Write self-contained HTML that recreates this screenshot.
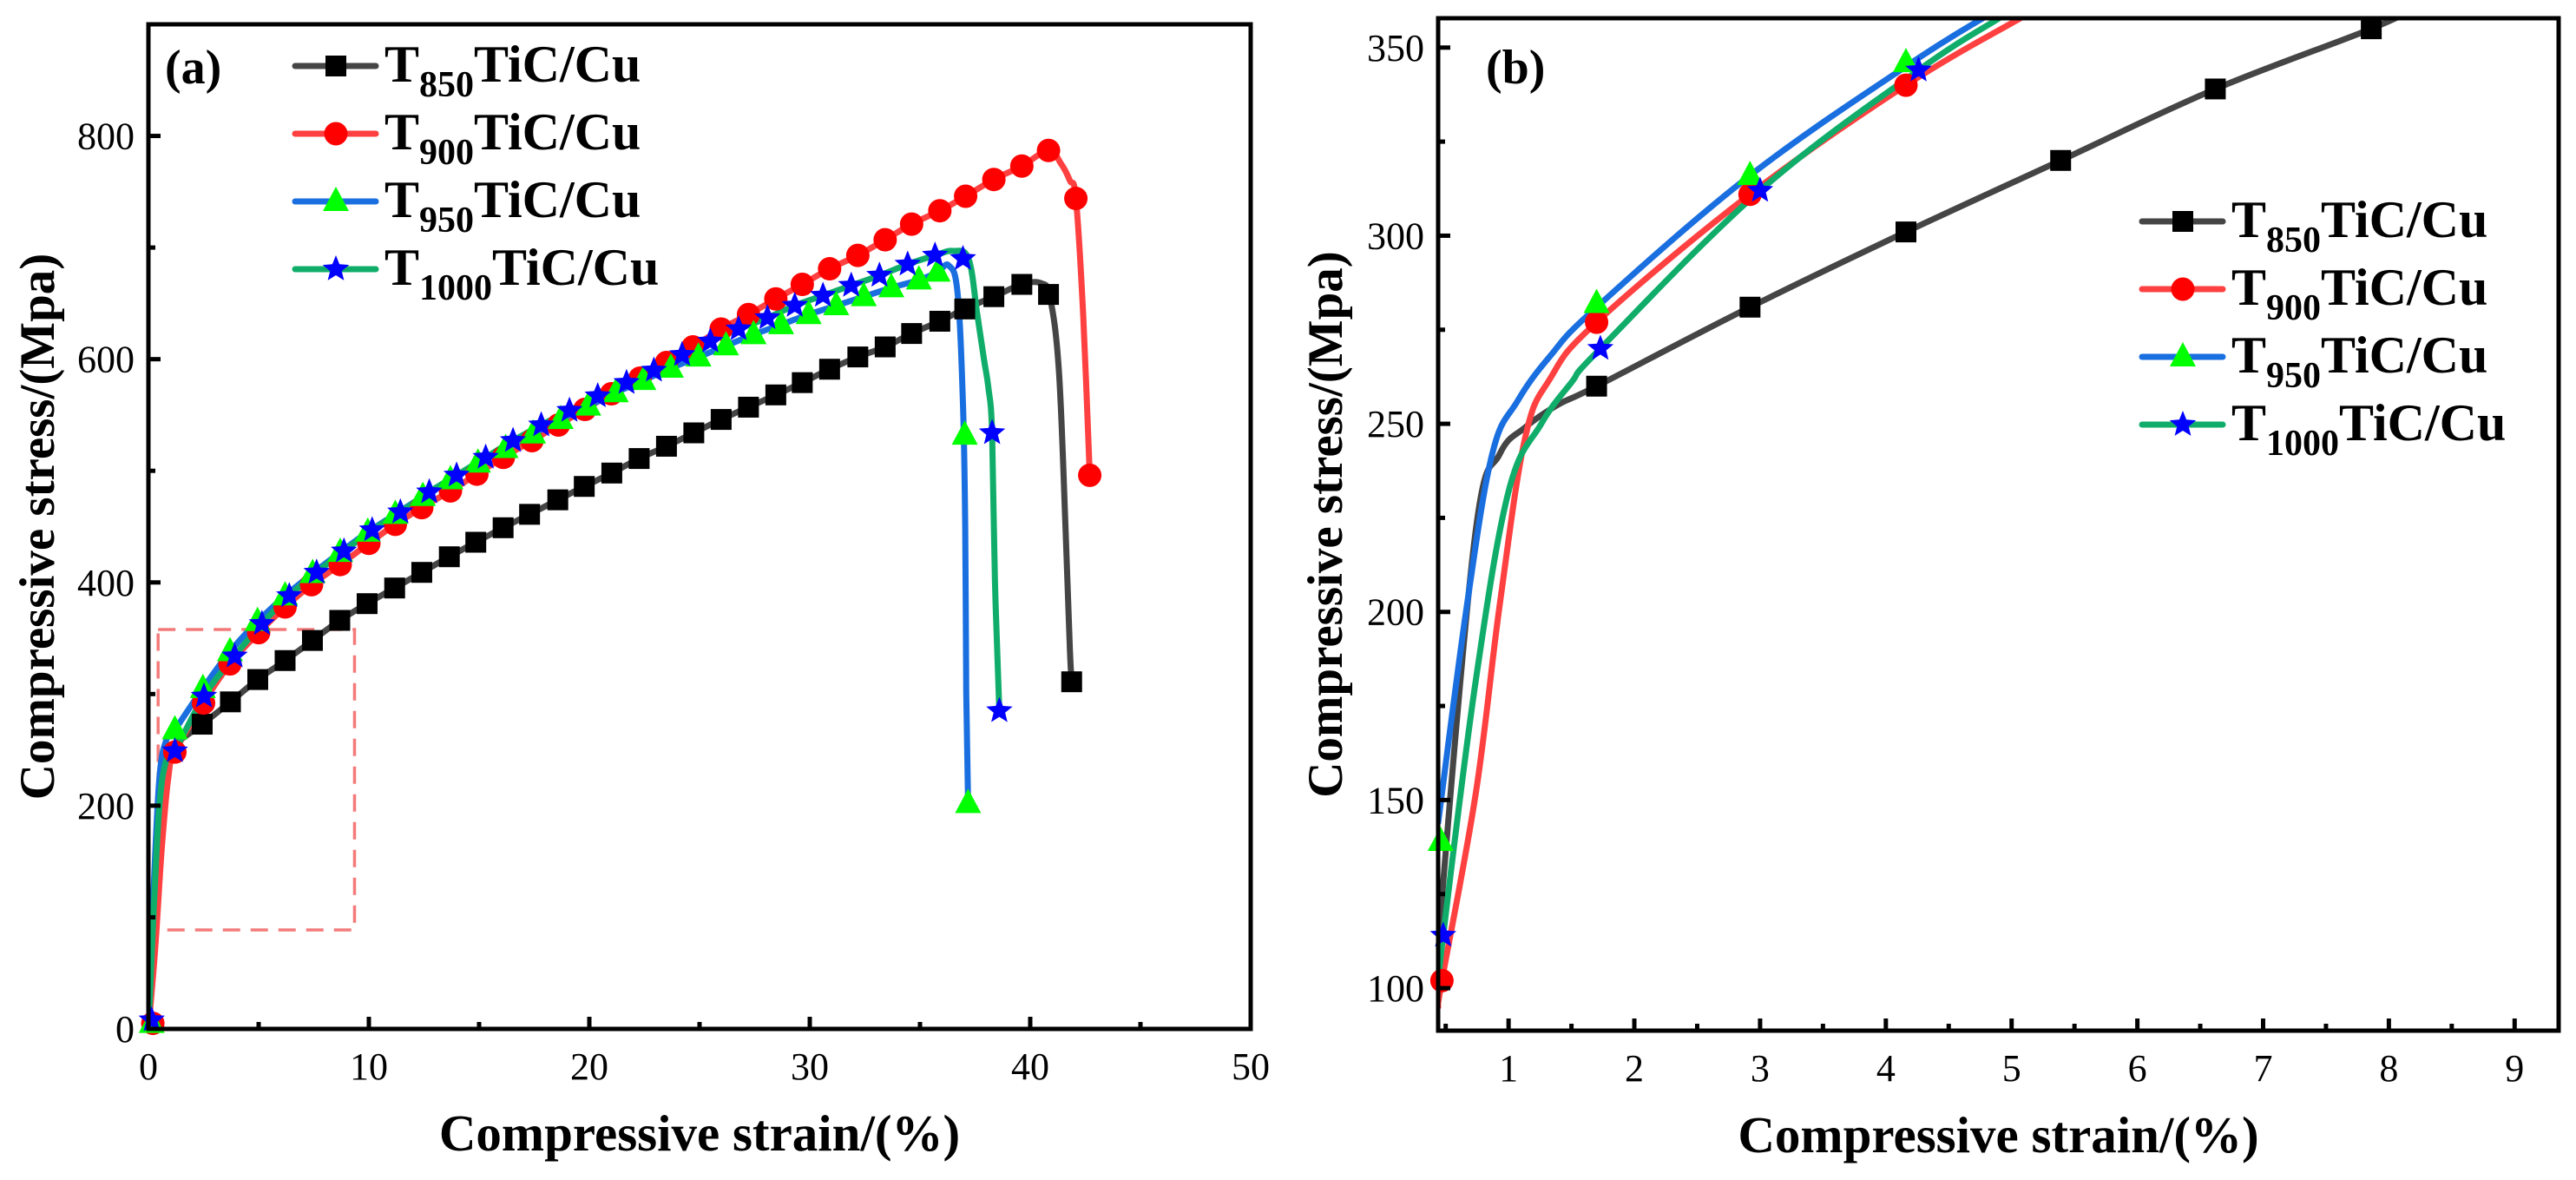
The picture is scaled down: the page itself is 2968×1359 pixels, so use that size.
<!DOCTYPE html>
<html><head><meta charset="utf-8"><style>
html,body{margin:0;padding:0;background:#fff;}
svg{display:block;}
text{font-family:"Liberation Serif",serif;}
</style></head><body>
<svg id="fig" width="2968" height="1359" viewBox="0 0 2968 1359" xmlns="http://www.w3.org/2000/svg"></svg>
<script>
// ---------- Panel (a) data ----------
const a850LineX=[0,0.25,0.5,0.8,1.2,2.44,3.72,4.96,6.2,7.44,8.68,9.92,11.17,12.4,13.65,14.85,16.09,17.29,18.57,19.77,21.02,22.26,23.5,24.74,25.98,27.22,28.46,29.66,30.9,32.18,33.42,34.62,35.9,37.03,38.35,39.62,40.5,40.9,41.3,41.6,41.8,41.88];
const a850LineY=[0,120,215,245,255,273,293,313,330,348,366,381,395,409,423,436,449,461,474,486,498,511,522,534,546,557,568,579,591,602,611,623,634,645,656,667,668,655,590,450,340,311];
const a850MarkX=[2.44,3.72,4.96,6.2,7.44,8.68,9.92,11.17,12.4,13.65,14.85,16.09,17.29,18.57,19.77,21.02,22.26,23.5,24.74,25.98,27.22,28.46,29.66,30.9,32.18,33.42,34.62,35.9,37.03,38.35,39.62,40.83,41.88];
const a850MarkY=[273,293,313,330,348,366,381,395,409,423,436,449,461,474,486,498,511,522,534,546,557,568,579,591,602,611,623,634,645,656,667,658,311];

const a900LineX=[0,0.3,0.6,0.9,1.2,2.5,3.7,5,6.2,7.4,8.7,10,11.2,12.4,13.7,14.9,16.1,17.4,18.6,19.8,21,22.3,23.5,24.7,25.98,27.22,28.46,29.66,30.9,32.18,33.42,34.62,35.9,37.07,38.35,39.62,40.83,41.4,41.8,42.07,42.4,42.7];
const a900LineY=[0,70,160,225,248,292,327,355,378,398,416,435,452,467,482,497,512,527,541,555,569,583,597,611,627,640,654,667,681,693,707,721,733,746,761,773,787,775,760,744,640,496];
const a900MarkX=[0.2,1.2,2.5,3.7,5,6.2,7.4,8.7,10,11.2,12.4,13.7,14.9,16.1,17.4,18.6,19.8,21,22.3,23.5,24.7,25.98,27.22,28.46,29.66,30.9,32.18,33.42,34.62,35.9,37.07,38.35,39.62,40.83,42.07,42.7];
const a900MarkY=[5,248,292,327,355,378,398,416,435,452,467,482,497,512,527,541,555,569,583,597,611,627,640,654,667,681,693,707,721,733,746,761,773,787,744,496];

const a950LineX=[0,0.25,0.5,0.8,1.2,2.47,3.7,4.95,6.2,7.45,8.7,9.95,11.2,12.45,13.7,14.95,16.2,17.45,18.7,19.95,21.2,22.45,23.7,24.95,26.2,27.45,28.7,29.95,31.2,32.45,33.7,34.95,35.8,36.3,36.7,36.95,37.05,37.1,37.18];
const a950LineY=[0,130,225,258,268,305,338,365,388,408,427,445,461,477,492,507,520,533,546,558,570,581,592,602,612,622,631,640,648,656,664,671,678,684,660,560,450,300,202];
const a950MarkX=[0.15,1.2,2.47,3.7,4.95,6.2,7.45,8.7,9.95,11.2,12.45,13.7,14.95,16.2,17.45,18.7,19.95,21.2,22.45,23.7,24.95,26.2,27.45,28.7,29.95,31.2,32.45,33.7,34.95,35.8,37.03,37.18];
const a950MarkY=[5,268,305,338,365,388,408,427,445,461,477,492,507,520,533,546,558,570,581,592,602,612,622,631,640,648,656,664,671,678,532,202];

const a1000LineX=[0,0.25,0.5,0.8,1.2,2.52,3.91,5.15,6.39,7.63,8.87,10.15,11.43,12.74,13.98,15.3,16.54,17.82,19.1,20.38,21.69,22.93,24.21,25.49,26.77,28.08,29.32,30.6,31.88,33.16,34.44,35.68,36.5,37.2,37.6,37.9,38.1,38.27,38.4,38.6];
const a1000LineY=[0,110,200,240,249,298,334,363,388,409,428,447,463,481,496,512,527,541,554,567,579,590,604,616,627,637,648,657,666,675,685,693,697,690,640,600,575,534,400,285];
const a1000MarkX=[0.15,1.2,2.52,3.91,5.15,6.39,7.63,8.87,10.15,11.43,12.74,13.98,15.3,16.54,17.82,19.1,20.38,21.69,22.93,24.21,25.49,26.77,28.08,29.32,30.6,31.88,33.16,34.44,35.68,36.95,38.27,38.6];
const a1000MarkY=[8,249,298,334,363,388,409,428,447,463,481,496,512,527,541,554,567,579,590,604,616,627,637,648,657,666,675,685,693,690,534,285];

// ---------- Panel (b) data ----------
const b850LineX=[0.44,0.48,0.74,0.93,1.13,1.39,1.70,2.92,4.16,5.39,6.62,7.86,8.3];
const b850LineY=[100,128,222,242,249,255,260,281,301,320,339,355,362];
const b850MarkX=[1.70,2.92,4.16,5.39,6.62,7.86];
const b850MarkY=[260,281,301,320,339,355];
const b900LineX=[0.44,0.47,0.74,0.93,1.13,1.33,1.70,2.92,4.16,5.08,5.3];
const b900LineY=[95,102,152,202,246,262,277,311,340,358,362];
const b900MarkX=[0.47,1.70,2.92,4.16];
const b900MarkY=[102,277,311,340];
const b950LineX=[0.44,0.67,0.87,1.07,1.33,1.70,2.92,4.16,4.78,5.0];
const b950LineY=[144,202,242,256,268,281,316,345,358,362];
const b950MarkX=[0.46,1.70,2.92,4.16];
const b950MarkY=[139,282,316,346];
const b1000LineX=[0.44,0.48,0.74,1.0,1.26,1.5,1.73,3.0,4.26,4.91,5.1];
const b1000LineY=[100,114,182,232,250,261,270,312,344,358,362];
const b1000MarkX=[0.48,1.73,3.0,4.26];
const b1000MarkY=[114,270,312,344];

const aXTicks=[0,10,20,30,40,50];
const aYTicks=[0,200,400,600,800];
const bXTicks=[1,2,3,4,5,6,7,8,9];
const bYTicks=[100,150,200,250,300,350];
const seriesNames=["850","900","950","1000"];

const NS="http://www.w3.org/2000/svg";
const svg=document.getElementById('fig');
function el(tag,attrs,parent){const e=document.createElementNS(NS,tag);for(const k in attrs)e.setAttribute(k,attrs[k]);(parent||svg).appendChild(e);return e;}

const styles={
 "850":{line:"#454545",mk:"#000000",shape:"square"},
 "900":{line:"#ff4040",mk:"#ff0000",shape:"circle"},
 "950":{line:"#1a6fe0",mk:"#00ff00",shape:"triangle"},
 "1000":{line:"#10ad6a",mk:"#0000ff",shape:"star"}
};

function smoothPath(pts){
 let d="M"+pts[0][0].toFixed(1)+","+pts[0][1].toFixed(1);
 for(let i=0;i<pts.length-1;i++){
  const p0=pts[Math.max(0,i-1)],p1=pts[i],p2=pts[i+1],p3=pts[Math.min(pts.length-1,i+2)];
  const t=0.18;
  const c1=[p1[0]+(p2[0]-p0[0])*t,p1[1]+(p2[1]-p0[1])*t];
  const c2=[p2[0]-(p3[0]-p1[0])*t,p2[1]-(p3[1]-p1[1])*t];
  d+=" C"+c1[0].toFixed(1)+","+c1[1].toFixed(1)+" "+c2[0].toFixed(1)+","+c2[1].toFixed(1)+" "+p2[0].toFixed(1)+","+p2[1].toFixed(1);
 }
 return d;
}
function marker(shape,cx,cy,color,parent,s){
 s=s||1;let m;
 if(shape==="square"){m=el('rect',{x:cx-12*s,y:cy-12*s,width:24*s,height:24*s,fill:color},parent);}
 else if(shape==="circle"){m=el('circle',{cx:cx,cy:cy,r:13.5*s,fill:color},parent);}
 else if(shape==="triangle"){m=el('polygon',{points:`${cx},${cy-17*s} ${cx+15*s},${cy+11*s} ${cx-15*s},${cy+11*s}`,fill:color},parent);}
 else{let p=[];for(let i=0;i<10;i++){const r=i%2?7*s:16*s;const a=-Math.PI/2+i*Math.PI/5;p.push((cx+r*Math.cos(a)).toFixed(1)+","+(cy+r*Math.sin(a)).toFixed(1));}m=el('polygon',{points:p.join(" "),fill:color},parent);}
 return m;
}

function panel(cfg){
 const {L,R,T,B,x0,x1,y0,y1}=cfg;
 const X=v=>L+(v-x0)/(x1-x0)*(R-L);
 const Y=v=>B-(v-y0)/(y1-y0)*(B-T);
 const g=el('g',{});
 
 
 const clipId="clip"+cfg.id;
 const cp=el('clipPath',{id:clipId},g);el('rect',{x:L,y:T,width:R-L,height:B-T},cp);
 const plot=el('g',{'clip-path':`url(#${clipId})`},g);
 
 
 if(cfg.zoomRect){
  const zr=cfg.zoomRect;
  const r=el('rect',{x:X(zr[0]),y:Y(zr[3]),width:X(zr[1])-X(zr[0]),height:Y(zr[2])-Y(zr[3]),fill:"none",stroke:"#f47a7a","stroke-width":3.5,"stroke-dasharray":"20,12"},plot);
  
  
 }
 cfg.series.forEach(s=>{
  const st=styles[s.key];
  const pts=s.lx.map((v,i)=>[X(v),Y(s.ly[i])]);
  const p=el('path',{d:smoothPath(pts),fill:"none",stroke:st.line,"stroke-width":7,"stroke-linejoin":"round","stroke-linecap":"round"},plot);
  
  
 });
 cfg.series.forEach(s=>{
  const st=styles[s.key];
  s.mx.forEach((v,i)=>{
   const m=marker(st.shape,X(v),Y(s.my[i]),st.mk,g);
   
   
  });
 });
 const fr=el('rect',{x:L,y:T,width:R-L,height:B-T,fill:"none",stroke:"#000","stroke-width":5},g);
 
 
 cfg.xt.forEach(v=>{
  const x=X(v);
  el('line',{x1:x,y1:B,x2:x,y2:B-14,stroke:"#000","stroke-width":5},g);
  const t=el('text',{x:x,y:B+58,"font-size":44,"text-anchor":"middle"},g);t.textContent=v;
  
  
 });
 for(let v=cfg.xt[0]-cfg.xm;v<=x1;v+=cfg.xm){if(v<x0||cfg.xt.some(q=>Math.abs(q-v)<1e-6))continue;const x=X(v);el('line',{x1:x,y1:B,x2:x,y2:B-8,stroke:"#000","stroke-width":5},g);}
 cfg.yt.forEach(v=>{
  const y=Y(v);
  el('line',{x1:L,y1:y,x2:L+14,y2:y,stroke:"#000","stroke-width":5},g);
  const t=el('text',{x:L-16,y:y+15,"font-size":44,"text-anchor":"end"},g);t.textContent=v;
  
  
 });
 for(let v=cfg.yt[0]-cfg.ym;v<=y1;v+=cfg.ym){if(v<y0||cfg.yt.some(q=>Math.abs(q-v)<1e-6))continue;const y=Y(v);el('line',{x1:L,y1:y,x2:L+8,y2:y,stroke:"#000","stroke-width":5},g);}
 const xt=el('text',{x:(L+R)/2,y:B+140,"font-size":59,"font-weight":"bold","text-anchor":"middle"},g);
 xt.textContent="Compressive strain/(%)";
 
 
 const yx=cfg.ytx, yy=(T+B)/2;
 const yt=el('text',{x:yx,y:yy,"font-size":57,"font-weight":"bold","text-anchor":"middle",transform:`rotate(-90 ${yx} ${yy})`},g);
 yt.textContent="Compressive stress/(Mpa)";
 
 
 const pl=el('text',{x:cfg.lab[0],y:cfg.lab[1],"font-size":56,"font-weight":"bold"},g);
 pl.textContent=cfg.label;
 
 
 const lg=el('g',{},g);
 
 
 seriesNames.forEach((k,i)=>{
  const st=styles[k];const y=cfg.leg[1]+i*78;const lx=cfg.leg[0];
  const e=el('g',{},lg);
  
  
  el('line',{x1:lx,y1:y,x2:lx+93,y2:y,stroke:st.line,"stroke-width":7,"stroke-linecap":"round"},e);
  marker(st.shape,lx+47,y,st.mk,e);
  const t=el('text',{x:lx+103,y:y+18,"font-size":60,"font-weight":"bold"},e);
  const t1=el('tspan',{},t);t1.textContent="T";
  const t2=el('tspan',{"font-size":42,dy:17},t);t2.textContent=k;
  const t3=el('tspan',{dy:-17},t);t3.textContent="TiC/Cu";
 });
}

panel({id:"a",name:"panel-a-full-curve",label:"(a)",lab:[190,96],L:171,R:1441,T:28,B:1185,x0:0,x1:50,y0:0,y1:900,
 xt:aXTicks,xm:5,yt:aYTicks,ym:100,ytx:62,leg:[340,76],zoomRect:[0.44,9.35,88.7,357.8],
 series:[
  {key:"850",lx:a850LineX,ly:a850LineY,mx:a850MarkX,my:a850MarkY},
  {key:"900",lx:a900LineX,ly:a900LineY,mx:a900MarkX,my:a900MarkY},
  {key:"950",lx:a950LineX,ly:a950LineY,mx:a950MarkX,my:a950MarkY},
  {key:"1000",lx:a1000LineX,ly:a1000LineY,mx:a1000MarkX,my:a1000MarkY}]});
panel({id:"b",name:"panel-b-zoomed-curve",label:"(b)",lab:[1712,96],L:1657,R:2948,T:21,B:1187,x0:0.44,x1:9.35,y0:88.7,y1:357.8,
 xt:bXTicks,xm:0.5,yt:bYTicks,ym:25,ytx:1546,leg:[2468,255],
 series:[
  {key:"850",lx:b850LineX,ly:b850LineY,mx:b850MarkX,my:b850MarkY},
  {key:"900",lx:b900LineX,ly:b900LineY,mx:b900MarkX,my:b900MarkY},
  {key:"950",lx:b950LineX,ly:b950LineY,mx:b950MarkX,my:b950MarkY},
  {key:"1000",lx:b1000LineX,ly:b1000LineY,mx:b1000MarkX,my:b1000MarkY}]});
</script>
</body></html>
